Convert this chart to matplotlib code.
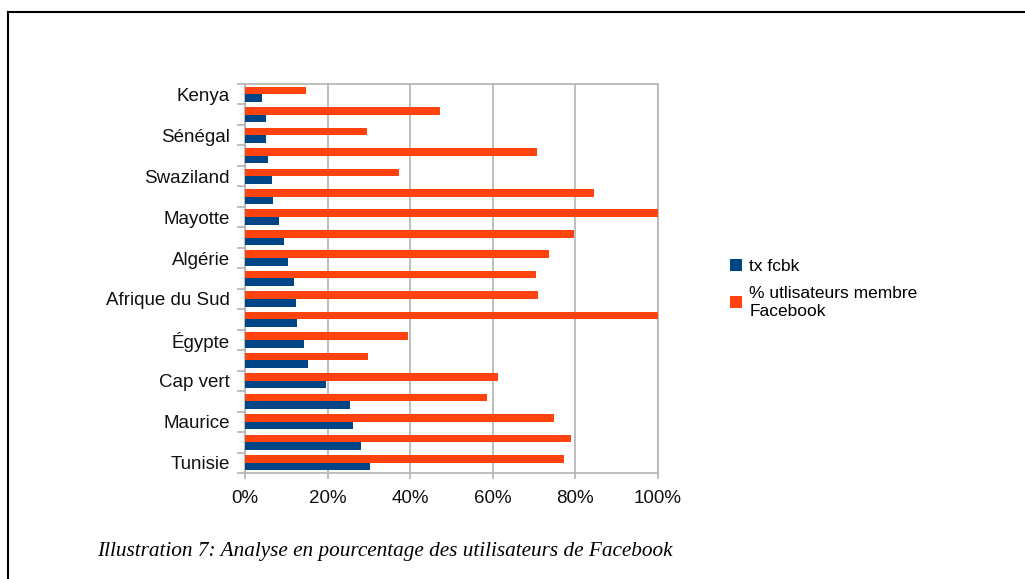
import matplotlib.pyplot as plt
import numpy as np
from matplotlib.lines import Line2D
from matplotlib.ticker import FuncFormatter

plt.rcParams['font.family'] = ['Liberation Sans', 'DejaVu Sans']

# catégories (une sur deux est nommée sur le graphique)
pays = ['Kenya', '', 'Sénégal', '', 'Swaziland', '', 'Mayotte', '', 'Algérie', '',
        'Afrique du Sud', '', 'Égypte', '', 'Cap vert', '', 'Maurice', '', 'Tunisie']
tx_fcbk = [4.1, 5.2, 5.2, 5.6, 6.6, 6.9, 8.3, 9.4, 10.3, 11.9,
           12.3, 12.7, 14.2, 15.2, 19.7, 25.4, 26.1, 28.2, 30.3]
membres = [14.8, 47.3, 29.6, 70.6, 37.2, 84.6, 100, 79.6, 73.7, 70.5,
           70.9, 100, 39.5, 29.8, 61.3, 58.5, 74.9, 79.0, 77.3]

bleu = '#004586'
orange = '#ff420e'
gris = '#b3b3b3'

fig = plt.figure(figsize=(10.25, 5.79), dpi=100)
ax = fig.add_axes([0.239, 0.183, 0.403, 0.672])

y = np.arange(len(pays))
h = 0.37
ax.barh(y - h / 2, membres, height=h, color=orange, label='% utlisateurs membre\nFacebook', zorder=3)
ax.barh(y + h / 2, tx_fcbk, height=h, color=bleu, label='tx fcbk', zorder=3)

ax.set_xlim(0, 100)
ax.set_ylim(len(pays) - 0.5, -0.5)
ax.set_xticks([0, 20, 40, 60, 80, 100])
ax.xaxis.set_major_formatter(FuncFormatter(lambda v, p: '%d%%' % v))
ax.set_yticks(y)
ax.set_yticklabels(pays)
ax.set_yticks(np.arange(-0.5, len(pays), 1), minor=True)
ax.tick_params(axis='y', which='major', length=0, pad=11, labelsize=13.5, labelcolor='#111111')
ax.tick_params(axis='y', which='minor', length=6, color=gris, width=1.2)
ax.tick_params(axis='x', which='major', length=4, color=gris, width=1.2, pad=8,
               labelsize=13.5, labelcolor='#111111')
ax.grid(axis='x', color=gris, linewidth=1.2, zorder=0)
for s in ax.spines.values():
    s.set_color(gris)
    s.set_linewidth(1.2)

hd, lb = ax.get_legend_handles_labels()
leg = fig.legend(hd[::-1], lb[::-1], loc='upper left', bbox_to_anchor=(0.697, 0.58),
                 frameon=False, fontsize=12.5, handlelength=0.7, handleheight=0.7,
                 handletextpad=0.4, labelspacing=0.7)

# cadre de la page
fig.add_artist(Line2D([8 / 1025, 8 / 1025], [0, 1 - 12 / 579], color='black', lw=1.5))
fig.add_artist(Line2D([8 / 1025, 1], [1 - 12 / 579, 1 - 12 / 579], color='black', lw=1.5))

fig.text(97 / 1025, 0.048, 'Illustration 7: Analyse en pourcentage des utilisateurs de Facebook',
         family=['Liberation Serif', 'DejaVu Serif'], style='italic', fontsize=15.3, va='center')

fig.savefig('out.png', dpi=100)
